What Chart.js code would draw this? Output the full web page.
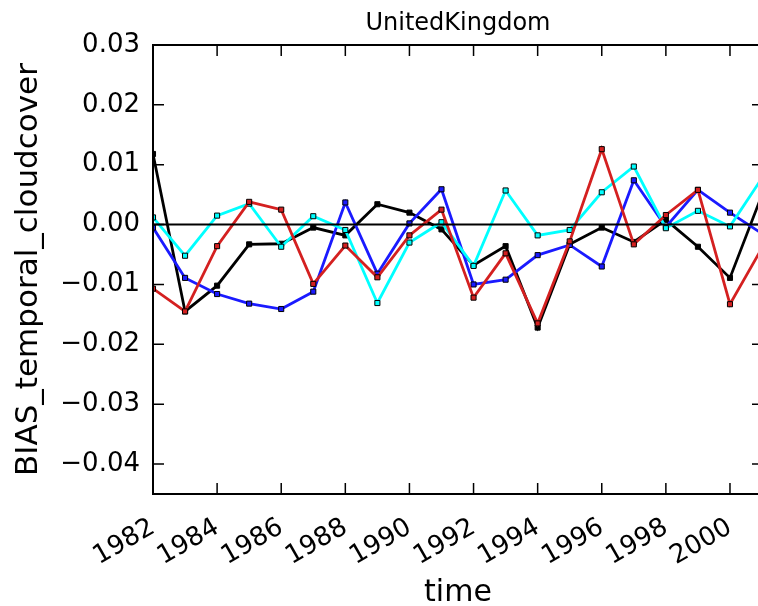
<!DOCTYPE html>
<html>
<head>
<meta charset="utf-8">
<title>UnitedKingdom</title>
<script src="https://cdn.jsdelivr.net/npm/chart.js@4/dist/chart.umd.min.js"></script>
<style>
  html, body { margin: 0; padding: 0; background: #fff; overflow: hidden; }
  #wrap { width: 770px; height: 606px; }
</style>
</head>
<body>
<div id="wrap"><canvas id="biasChart" width="770" height="606"></canvas></div>
<script>
// yearly bias of the temporal cloud cover, four runs
const years = [1982, 1983, 1984, 1985, 1986, 1987, 1988, 1989, 1990, 1991,
               1992, 1993, 1994, 1995, 1996, 1997, 1998, 1999, 2000, 2001];

const biasBlack = [0.0118, -0.0145, -0.0102, -0.0033, -0.0032, -0.0005, -0.0018, 0.0034, 0.0020, -0.0008,
                   -0.0068, -0.0036, -0.0172, -0.0033, -0.0005, -0.0029, 0.0008, -0.0037, -0.0089, 0.0050];
const biasBlue  = [-0.0005, -0.0089, -0.0116, -0.0132, -0.0141, -0.0112, 0.0037, -0.0082, 0.0002, 0.0059,
                   -0.0100, -0.0092, -0.0051, -0.0034, -0.0070, 0.0074, -0.0004, 0.0058, 0.0020, -0.0015];
const biasRed   = [-0.0107, -0.0145, -0.0036, 0.0038, 0.0025, -0.0099, -0.0035, -0.0088, -0.0018, 0.0025,
                   -0.0122, -0.0048, -0.0165, -0.0028, 0.0126, -0.0033, 0.0016, 0.0058, -0.0133, -0.0039];
const biasCyan  = [0.0012, -0.0052, 0.0015, 0.0035, -0.0037, 0.0014, -0.0009, -0.0131, -0.0030, 0.0004,
                   -0.0069, 0.0057, -0.0018, -0.0009, 0.0054, 0.0097, -0.0006, 0.0023, -0.0003, 0.0078];

const yearTicks = [1982, 1984, 1986, 1988, 1990, 1992, 1994, 1996, 1998, 2000];
const biasTicks = [-0.04, -0.03, -0.02, -0.01, 0.00, 0.01, 0.02, 0.03];

const chartTitle = 'UnitedKingdom';
const xLabel = 'time';
const yLabel = 'BIAS_temporal_cloudcover';

const TICK_LEN = 11;

Chart.defaults.font.family = '"DejaVu Sans", sans-serif';
Chart.defaults.color = '#000';

function series(values, color) {
    return {
        data: years.map((yr, i) => ({ x: yr, y: values[i] })),
        borderColor: color,
        borderWidth: 2.8,
        backgroundColor: color,
        pointStyle: 'rect',
        pointRadius: 3.6,
        pointBackgroundColor: color,
        pointBorderColor: '#000',
        pointBorderWidth: 1,
        tension: 0,
        fill: false
    };
}

// frame, inward ticks, zero line and title, matplotlib style
const axesFrame = {
    id: 'axesFrame',
    afterDatasetsDraw(chart) {
        const { ctx, chartArea: a, scales: { x, y } } = chart;
        ctx.save();
        ctx.strokeStyle = '#000';

        ctx.lineWidth = 2;
        const y0 = y.getPixelForValue(0);
        ctx.beginPath();
        ctx.moveTo(a.left, y0);
        ctx.lineTo(a.right, y0);
        ctx.stroke();

        ctx.lineWidth = 1.5;
        ctx.beginPath();
        x.ticks.forEach(t => {
            const px = x.getPixelForValue(t.value);
            ctx.moveTo(px, a.bottom); ctx.lineTo(px, a.bottom - TICK_LEN);
            ctx.moveTo(px, a.top); ctx.lineTo(px, a.top + TICK_LEN);
        });
        y.ticks.forEach(t => {
            const py = y.getPixelForValue(t.value);
            ctx.moveTo(a.left, py); ctx.lineTo(a.left + TICK_LEN, py);
            ctx.moveTo(a.right, py); ctx.lineTo(a.right - TICK_LEN, py);
        });
        ctx.stroke();

        ctx.lineWidth = 2;
        ctx.strokeRect(a.left, a.top, a.right - a.left, a.bottom - a.top);

        ctx.fillStyle = '#000';
        ctx.font = '24px "DejaVu Sans"';
        ctx.textAlign = 'center';
        ctx.textBaseline = 'alphabetic';
        ctx.fillText(chartTitle, (a.left + a.right) / 2, a.top - 15);
        ctx.restore();
    }
};

new Chart(document.getElementById('biasChart'), {
    type: 'line',
    data: {
        // red on top, black at the bottom
        datasets: [
            series(biasRed, '#d42020'),
            series(biasCyan, '#00ffff'),
            series(biasBlue, '#1a1aff'),
            series(biasBlack, '#000000')
        ]
    },
    options: {
        responsive: false,
        animation: false,
        layout: { autoPadding: false, padding: { left: 0, top: 45, right: 7, bottom: 0 } },
        plugins: {
            legend: { display: false },
            tooltip: { enabled: false }
        },
        scales: {
            x: {
                type: 'linear',
                min: 1982,
                max: 2001.03,
                grid: { display: false, drawTicks: false },
                border: { display: false },
                afterBuildTicks: s => { s.ticks = yearTicks.map(v => ({ value: v })); },
                afterFit: s => { s.height = 112; },
                ticks: {
                    autoSkip: false,
                    minRotation: 30,
                    maxRotation: 30,
                    padding: 18,
                    font: { size: 26 },
                    callback: v => String(v)
                },
                title: {
                    display: true,
                    text: xLabel,
                    font: { size: 30 },
                    padding: { top: 0, bottom: -5 }
                }
            },
            y: {
                min: -0.045,
                max: 0.03,
                grid: { display: false, drawTicks: false },
                border: { display: false },
                afterBuildTicks: s => { s.ticks = biasTicks.map(v => ({ value: v })); },
                afterFit: s => { s.width = 153; },
                ticks: {
                    padding: 13,
                    font: { size: 26 },
                    callback: v => (v < -1e-9 ? '\u2212' : '') + Math.abs(v).toFixed(2)
                },
                title: {
                    display: true,
                    text: yLabel,
                    font: { size: 31 },
                    padding: { top: 10, bottom: 0 }
                }
            }
        }
    },
    plugins: [axesFrame]
});
</script>
</body>
</html>
